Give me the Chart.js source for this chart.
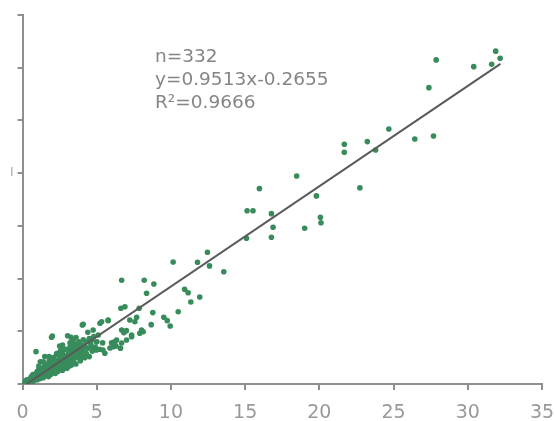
<!DOCTYPE html>
<html>
<head>
<meta charset="utf-8">
<script src="https://cdn.jsdelivr.net/npm/chart.js@4.4.0/dist/chart.umd.min.js"></script>
<style>
html,body{margin:0;padding:0;background:#fff;}
#wrap{width:555px;height:421px;position:relative;}
</style>
</head>
<body>
<div id="wrap"><canvas id="c" width="555" height="421"></canvas></div>
<script>
// x-axis tick labels
const xTicks = [0, 5, 10, 15, 20, 25, 30, 35];
// annotation text
const annotation = ["n=332", "y=0.9513x-0.2655", "R\u00b2=0.9666"];
// regression coefficients and span
const slope = 0.9513;
const intercept = -0.2655;
const lineX = [0.3, 32.2];

// observed values (x, y)
const obsX = [
 0.1,0.2,0.3,0.3,0.4,0.5,0.5,0.6,0.6,0.7,0.7,0.8,0.8,0.9,0.9,1.0,1.0,1.0,1.1,1.1,
 1.2,1.2,1.3,1.3,1.4,1.4,1.5,1.5,1.6,1.6,1.7,1.7,1.8,1.8,1.9,1.9,2.0,2.0,2.1,2.1,
 2.2,2.2,2.3,2.3,2.4,2.4,2.5,2.5,2.6,2.6,2.7,2.7,2.8,2.8,2.9,2.9,3.0,3.0,3.1,3.1,
 3.2,3.2,3.3,3.3,3.4,3.4,3.5,3.5,3.6,3.6,3.7,3.7,3.8,3.8,3.9,3.9,4.0,4.0,4.1,4.1,
 4.2,4.2,4.3,4.3,4.4,4.5,4.5,4.6,4.7,4.8,4.9,5.0,5.2,5.4,
 0.15,0.25,0.35,0.45,0.55,0.65,0.75,0.85,0.95,1.05,1.15,1.25,1.35,1.45,1.55,1.65,1.75,1.85,1.95,2.05,
 2.15,2.25,2.35,2.45,2.55,2.65,2.75,2.85,2.95,3.05,3.15,3.25,3.35,3.45,3.55,3.65,3.75,3.85,3.95,4.05,
 2.01,3.04,0.91,4.09,5.1,4.66,4.99,5.55,6.0,6.3,6.6,6.2,1.5,2.5,3.6,4.4,1.2,
 5.42,5.89,6.23,6.68,7.0,7.35,7.9,8.13,5.0,4.03,5.22,5.77,1.96,3.26,
 12.46,11.79,10.15,12.6,13.56,6.68,8.2,8.85,8.36,10.92,11.16,11.34,11.94,10.49,8.78,9.52,9.75,9.95,8.67,
 6.63,6.9,7.23,7.57,7.69,7.86,8.02,7.35,6.83,5.33,5.77,6.68,6.34,7.01,6.11,4.76,4.66,
 15.96,18.47,19.8,15.13,15.53,16.77,16.88,16.77,19.01,20.07,20.11,15.09,22.73,
 21.68,21.68,23.23,23.79,24.68,26.43,27.69,27.38,27.87,30.4,31.61,31.88,32.18,
 2.3,2.6,2.9,3.2,1.8,2.0,2.7,3.4,1.4,1.1
];
const obsY = [
 0.1,0.3,0.1,0.4,0.2,0.5,0.3,0.7,0.2,0.5,0.9,0.4,0.7,1.0,0.5,0.8,1.2,0.4,0.9,1.4,
 0.6,1.1,1.5,0.8,1.2,0.6,1.7,1.0,1.3,0.8,1.9,1.5,1.1,2.2,1.6,0.9,2.0,1.3,2.5,1.7,
 1.0,2.1,1.5,2.8,1.9,1.2,2.4,3.0,1.6,2.2,2.9,1.3,2.5,1.9,3.3,2.2,1.5,2.7,3.1,2.0,
 3.5,2.4,1.8,2.9,3.3,2.2,3.8,2.6,3.0,1.9,3.5,2.5,4.0,2.9,3.3,2.2,3.7,2.7,4.2,3.1,
 2.5,3.6,4.0,2.9,3.4,4.3,2.6,3.8,3.1,4.5,3.5,4.0,3.3,3.9,
 0.2,0.05,0.25,0.4,0.15,0.45,0.3,0.85,0.65,1.0,0.5,0.9,1.3,0.85,1.4,1.1,0.7,1.8,1.2,1.6,
 2.3,1.3,2.0,1.6,2.7,1.9,2.2,1.6,2.6,3.2,1.7,2.6,3.6,2.0,3.1,2.7,3.0,3.7,2.5,3.4,
 4.55,4.58,3.07,5.66,4.65,3.54,3.23,2.91,3.9,3.6,3.4,4.0,2.6,3.6,4.4,4.9,2.1,
 3.23,3.42,3.7,3.89,5.06,4.65,4.81,4.96,4.0,5.6,5.76,6.01,4.43,4.43,
 12.5,11.55,11.57,11.2,10.65,9.84,9.84,9.49,8.61,8.98,8.66,7.78,8.25,6.86,6.77,6.33,6.01,5.5,5.63,
 7.18,7.33,6.07,5.91,6.33,7.18,5.12,4.49,4.87,5.91,6.07,5.12,4.17,4.17,3.54,5.12,4.17,
 18.53,19.73,17.84,16.44,16.44,16.16,14.87,13.92,14.77,15.82,15.3,13.82,18.6,
 22.74,21.98,22.99,22.2,24.19,23.24,23.53,28.11,30.74,30.1,30.33,31.57,30.9,
 2.9,3.3,2.0,3.9,2.6,1.1,3.7,4.1,2.1,1.7
];

const pts = obsX.map((x, i) => ({x: x, y: obsY[i]}));
const linePts = lineX.map(x => ({x: x, y: slope * x + intercept}));

const textPlugin = {
  id: 'annot',
  afterDraw(chart) {
    const ctx = chart.ctx;
    ctx.save();
    ctx.font = '18.5px "DejaVu Sans"';
    ctx.fillStyle = '#858585';
    ctx.textBaseline = 'alphabetic';
    ctx.textAlign = 'left';
    const base = [62, 85, 108];
    annotation.forEach((t, i) => ctx.fillText(t, 155, base[i]));
    ctx.restore();
  }
};

new Chart(document.getElementById('c'), {
  type: 'scatter',
  data: {
    datasets: [
      {
        label: 'obs',
        data: pts,
        backgroundColor: 'rgb(56,140,92)',
        borderColor: 'rgb(56,140,92)',
        pointRadius: 2.8,
        pointBorderWidth: 0,
        order: 2
      },
      {
        type: 'line',
        label: 'fit',
        data: linePts,
        borderColor: '#5a5a5a',
        borderWidth: 2,
        pointRadius: 0,
        fill: false,
        order: 1
      }
    ]
  },
  options: {
    responsive: false,
    animation: false,
    layout: {padding: {left: 0, right: 13, top: 15, bottom: 0}},
    plugins: {legend: {display: false}, tooltip: {enabled: false}},
    scales: {
      x: {
        type: 'linear', min: 0, max: 35,
        afterBuildTicks(s) { s.ticks = xTicks.map(v => ({value: v})); },
        afterFit(s) { s.height = 37; s.paddingLeft = 0; s.paddingRight = 0; },
        border: {color: '#8f8f8f', width: 2},
        grid: {drawOnChartArea: false, tickLength: 6, color: '#8f8f8f', lineWidth: 2},
        ticks: {color: '#999', font: {family: 'DejaVu Sans', size: 19}, padding: 12, maxRotation: 0}
      },
      y: {
        type: 'linear', min: 0, max: 35,
        ticks: {stepSize: 5, color: '#aaa', font: {family: 'DejaVu Sans', size: 12}, padding: 4,
          callback: v => (v === 20 ? 'I' : '')},
        afterFit(s) { s.width = 22.5; },
        border: {color: '#8f8f8f', width: 2},
        grid: {drawOnChartArea: false, tickLength: 5, color: '#8f8f8f', lineWidth: 2}
      }
    }
  },
  plugins: [textPlugin]
});
</script>
</body>
</html>
